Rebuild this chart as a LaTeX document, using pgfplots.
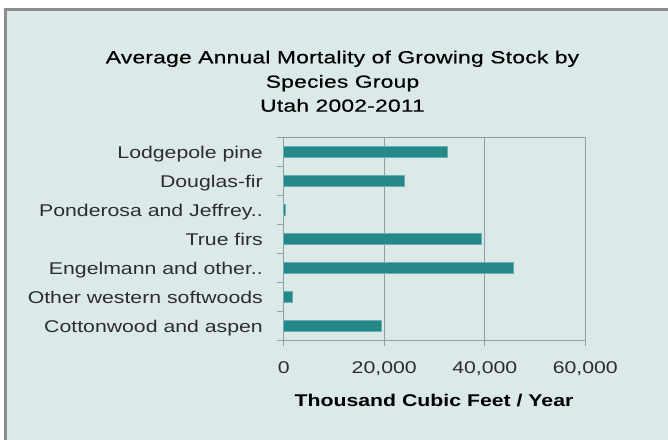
\documentclass[border=0pt]{standalone}
\usepackage{fontspec}
\setmainfont{Liberation Sans}[FakeStretch=1.25]
\newfontfamily\titlefont{Liberation Sans}[FakeStretch=1.3, LetterSpace=1.5, FakeBold=0.6]
\usepackage{pgfplots}
\pgfplotsset{compat=1.18}
\definecolor{bgc}{RGB}{220,233,233}
\definecolor{framec}{RGB}{140,140,140}
\definecolor{gridc}{RGB}{143,160,160}
\definecolor{barc}{RGB}{36,136,136}
\definecolor{baredge}{RGB}{106,175,175}
\definecolor{tickc}{RGB}{45,45,45}
\begin{document}
\begin{tikzpicture}[x=1bp,y=1bp]
\path[use as bounding box] (0,0) rectangle (668,440);
\fill[white] (0,0) rectangle (668,440);
\fill[bgc] (5.5,0) rectangle (668,430.5);
\draw[framec, line width=3bp] (5.5,0) -- (5.5,430.5) -- (668,430.5);
\begin{axis}[
  at={(283.7bp,99.7bp)}, anchor=south west,
  scale only axis, width=301.6bp, height=203bp,
  xmin=0, xmax=60000, ymin=0.5, ymax=7.5,
  y dir=reverse,
  xbar, bar width=11.3bp,
  axis line style={gridc, line width=1bp},
  xmajorgrids, major grid style={gridc, line width=1bp},
  xtick={0,20000,40000,60000},
  ytick={1,2,3,4,5,6,7},
  yticklabels={Lodgepole pine,Douglas-fir,Ponderosa and Jeffrey..,True firs,Engelmann and other..,Other western softwoods,Cottonwood and aspen},
  minor ytick={0.5,1.5,2.5,3.5,4.5,5.5,6.5,7.5},
  tick align=outside,
  xtick pos=bottom, ytick pos=left,
  major tick length=6bp,
  minor tick length=7bp,
  every major y tick/.append style={draw=none},
  tick style={gridc, line width=1bp},
  every tick label/.append style={font=\fontsize{17bp}{20bp}\selectfont, text=tickc, inner sep=0pt},
  yticklabel style={anchor=base east, xshift=-14.7bp, yshift=-6.3bp},
  xticklabel style={anchor=base, yshift=-27bp},
  /pgf/number format/assume math mode=true,
  scaled x ticks=false,
  xticklabel={\pgfmathprintnumber[1000 sep={,}]{\tick}},
  clip=false,
]
\addplot[fill=barc, draw=baredge, line width=0.6bp] coordinates {
(32600,1) (24000,2) (400,3) (39400,4) (45700,5) (1700,6) (19350,7)
};
\end{axis}
\node[anchor=base, inner sep=0pt, font=\titlefont\fontsize{17.5bp}{20bp}\selectfont] at (342.5,376.7) {Average Annual Mortality of Growing Stock by};
\node[anchor=base, inner sep=0pt, font=\titlefont\fontsize{17.5bp}{20bp}\selectfont] at (342.5,352.3) {Species Group};
\node[anchor=base, inner sep=0pt, font=\titlefont\fontsize{17.5bp}{20bp}\selectfont] at (342.5,328.3) {Utah 2002-2011};
\node[anchor=base, inner sep=0pt, font=\fontsize{17bp}{20bp}\selectfont\bfseries] at (434,33.3) {Thousand Cubic Feet / Year};
\end{tikzpicture}
\end{document}
